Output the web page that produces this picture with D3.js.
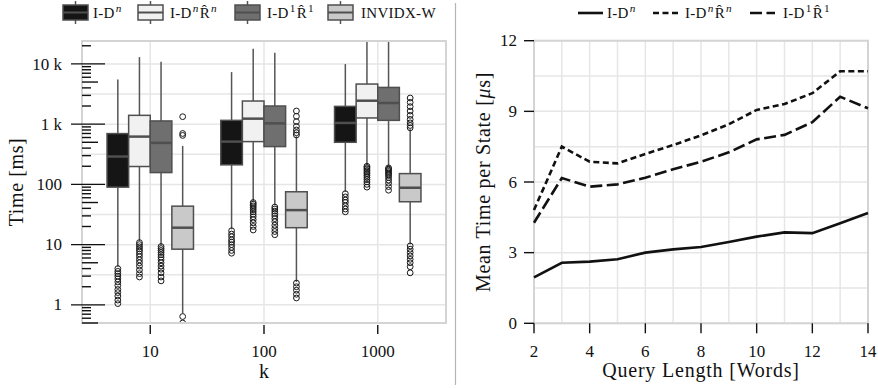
<!DOCTYPE html>
<html>
<head>
<meta charset="utf-8">
<script src="https://cdn.jsdelivr.net/npm/d3@7"></script>
<style>
  body { margin: 0; background: #fff; }
  svg text { font-family: "Liberation Serif", serif; fill: #111; }
</style>
</head>
<body>
<svg id="chart" width="878" height="388"></svg>
<script>
// categories of the left (box) panel
var kValues = ["10", "100", "1000"];

// [whiskerLow, q1, median, q3, whiskerHigh] per k
var boxIDn    = [[4.3, 90, 290, 697, 5520], [18, 211, 513, 1156, 7310], [75, 500, 1047, 1972, 9930]];
var boxIDnRn  = [[11.5, 198, 621, 1400, 12970], [52, 513, 1233, 2420, 17800], [205, 1267, 2450, 4630, 30000]];
var boxID1R1  = [[9.8, 157, 489, 1130, 10840], [45, 424, 1030, 2000, 15270], [195, 1156, 2245, 4070, 30000]];
var boxInvidx = [[0.72, 8.4, 19.1, 43.5, 435], [2.4, 19.1, 37.4, 75.4, 630], [10.1, 51.5, 88, 151, 820]];

// outliers per k
var outIDn = [
    [4.0, 3.6, 3.3, 3.0, 2.7, 2.4, 2.1, 1.8, 1.6, 1.4, 1.2, 1.05],
    [17, 15, 13.5, 12, 11, 10, 9, 8, 7.2],
    [70, 62, 55, 50, 44, 39, 35]];
var outIDnRn = [
    [10.8, 10, 9.2, 8.5, 7.8, 7, 6.3, 5.6, 5, 4.4, 3.8, 3.3, 2.9],
    [50, 47, 44, 41, 38, 35, 32, 29, 26, 23, 20, 17.5],
    [200, 190, 180, 170, 160, 150, 140, 130, 120, 110, 100, 90]];
var outID1R1 = [
    [9.3, 8.6, 8, 7.4, 6.8, 6.2, 5.6, 5, 4.4, 3.9, 3.4, 2.9, 2.5],
    [42, 39, 36, 33, 30, 27, 24, 21, 18.5, 16.5, 14.6],
    [188, 180, 172, 164, 156, 148, 140, 130, 118, 105, 92, 80]];
var outInvidx = [
    [1330, 700, 650, 0.64, 0.5],
    [1655, 1350, 1100, 920, 800, 720, 660, 2.3, 2.0, 1.75, 1.5, 1.3],
    [2716, 2300, 1950, 1650, 1400, 1200, 1050, 950, 870, 9.5, 8.4, 7.4, 6.5, 5.7, 5, 4.3, 3.4]];

// right (line) panel
var queryLength = [2, 3, 4, 5, 6, 7, 8, 9, 10, 11, 12, 13, 14];
var meanIDn   = [1.95, 2.57, 2.62, 2.72, 3.0, 3.14, 3.24, 3.45, 3.68, 3.86, 3.83, 4.25, 4.68];
var meanIDnRn = [4.81, 7.5, 6.86, 6.79, 7.19, 7.57, 7.98, 8.45, 9.06, 9.31, 9.77, 10.7, 10.7];
var meanID1R1 = [4.27, 6.17, 5.8, 5.9, 6.18, 6.54, 6.86, 7.26, 7.81, 8.0, 8.54, 9.62, 9.13];
var yTicksRight = [0, 3, 6, 9, 12];
var xTicksRight = [2, 4, 6, 8, 10, 12, 14];

var svg = d3.select("#chart");
var gridColor = "#e6e6e6";
var frameColor = "#d4d4d4";

// label with optional superscripts: parts = [[text, isSup, isItalic, dropBack], ...]
function richText(sel, parts, size) {
    var t = sel.append("text").style("font-size", size + "px");
    parts.forEach(function (p) {
        var ts = t.append("tspan").text(p[0]);
        if (p[1]) {
            ts.attr("dy", -size * 0.42).attr("dx", 1).style("font-size", (size * 0.75) + "px");
        }
        if (p[2]) ts.style("font-style", "italic");
        if (p[3]) ts.attr("dy", size * 0.42).attr("dx", 1);
    });
    return t;
}
var lblIDn    = [["I-D"], ["n", true, true]];
var lblIDnRn  = [["I-D"], ["n", true, true], ["R\u0302", false, false, true], ["n", true, true]];
var lblID1R1  = [["I-D"], ["1", true], ["R\u0302", false, false, true], ["1", true]];

/* ---------------- left panel ---------------- */
var L = {left: 82, right: 446, top: 41, bottom: 323};

var x0 = d3.scalePoint().domain(kValues).range([L.left, L.right]).padding(0.6);
var y0 = d3.scaleLog().domain([0.5, 24000]).range([L.bottom, L.top]);
var series = [
    {box: boxIDn, out: outIDn, fill: "#151515"},
    {box: boxIDnRn, out: outIDnRn, fill: "#f1f1f1"},
    {box: boxID1R1, out: outID1R1, fill: "#6f6f6f"},
    {box: boxInvidx, out: outInvidx, fill: "#c9c9c9"}
];
var groupW = x0.step() * 0.76;
var xs = d3.scaleBand().domain(d3.range(series.length)).range([-groupW / 2, groupW / 2]);

var left = svg.append("g");
svg.append("defs").append("clipPath").attr("id", "clipL")
    .append("rect").attr("x", L.left).attr("y", L.top)
    .attr("width", L.right - L.left).attr("height", L.bottom - L.top);

// grid: half decades + category lines
var halfDecades = d3.range(0, 9).map(function (i) { return Math.pow(10, i / 2); });
left.selectAll(".hg").data(halfDecades).enter().append("line")
    .attr("x1", L.left).attr("x2", L.right)
    .attr("y1", function (d) { return y0(d); }).attr("y2", function (d) { return y0(d); })
    .style("stroke", gridColor).style("stroke-width", 1.5);
left.selectAll(".vg").data(kValues).enter().append("line")
    .attr("x1", function (d) { return x0(d); }).attr("x2", function (d) { return x0(d); })
    .attr("y1", L.top).attr("y2", L.bottom)
    .style("stroke", gridColor).style("stroke-width", 1.5);

var boxes = left.append("g").attr("clip-path", "url(#clipL)");
series.forEach(function (s, si) {
    kValues.forEach(function (k, ki) {
        var st = s.box[ki];
        var cx = x0(k) + xs(si) + xs.bandwidth() / 2;
        var bw = xs.bandwidth();
        var g = boxes.append("g");
        g.append("line").attr("x1", cx).attr("x2", cx)
            .attr("y1", y0(st[0])).attr("y2", y0(st[4]))
            .style("stroke", "#555").style("stroke-width", 1.5);
        g.append("rect").attr("x", cx - bw / 2).attr("width", bw)
            .attr("y", y0(st[3])).attr("height", y0(st[1]) - y0(st[3]))
            .style("fill", s.fill).style("stroke", "#4f4f4f").style("stroke-width", 1.5);
        g.append("line").attr("x1", cx - bw / 2).attr("x2", cx + bw / 2)
            .attr("y1", y0(st[2])).attr("y2", y0(st[2]))
            .style("stroke", "#4f4f4f").style("stroke-width", 2.5);
        g.selectAll("circle").data(s.out[ki]).enter().append("circle")
            .attr("cx", cx).attr("cy", function (d) { return y0(d); }).attr("r", 2.9)
            .style("fill", "none").style("stroke", "#1a1a1a").style("stroke-width", 1);
    });
});

left.append("rect").attr("x", L.left).attr("y", L.top)
    .attr("width", L.right - L.left).attr("height", L.bottom - L.top)
    .style("fill", "none").style("stroke", frameColor).style("stroke-width", 2);

// y ticks (log): decades long across the spine, 5s medium, rest short
var yTickVals = y0.ticks();
function mant(d) {
    return Math.round(d / Math.pow(10, Math.floor(Math.log10(d) + 1e-9)));
}
left.selectAll(".yt").data(yTickVals).enter().append("line")
    .attr("x1", function (d) { return mant(d) === 1 ? L.left - 11 : L.left; })
    .attr("x2", function (d) {
        var m = mant(d);
        return m === 1 ? L.left + 23 : (m === 5 ? L.left + 16 : L.left + 9);
    })
    .attr("y1", function (d) { return y0(d); }).attr("y2", function (d) { return y0(d); })
    .style("stroke", "#111").style("stroke-width", 1.4);
var yMajor = [1, 10, 100, 1000, 10000];
left.selectAll(".yl").data(yMajor).enter().append("text")
    .attr("x", L.left - 20).attr("y", function (d) { return y0(d); })
    .attr("dy", "0.33em").attr("text-anchor", "end").style("font-size", "17px")
    .text(function (d) { return d >= 1000 ? (d / 1000) + " k" : d; });

// x ticks
left.selectAll(".xt").data(kValues).enter().append("line")
    .attr("x1", function (d) { return x0(d); }).attr("x2", function (d) { return x0(d); })
    .attr("y1", L.bottom + 2).attr("y2", L.bottom + 11)
    .style("stroke", "#111").style("stroke-width", 1.4);
left.selectAll(".xl").data(kValues).enter().append("text")
    .attr("x", function (d) { return x0(d); }).attr("y", 356.5)
    .attr("text-anchor", "middle").style("font-size", "17px").text(function (d) { return d; });

left.append("text").attr("x", (L.left + L.right) / 2).attr("y", 378)
    .attr("text-anchor", "middle").style("font-size", "20px").text("k");
left.append("text").attr("transform", "translate(23," + (L.top + L.bottom) / 2 + ") rotate(-90)")
    .attr("text-anchor", "middle").style("font-size", "20px").style("letter-spacing", "0.6px")
    .text("Time [ms]");

// left legend
var legL = [
    {x: 63, tx: 93, fill: "#151515", lbl: lblIDn},
    {x: 138, tx: 170, fill: "#f1f1f1", lbl: lblIDnRn},
    {x: 235, tx: 267, fill: "#6f6f6f", lbl: lblID1R1},
    {x: 328, tx: 361, fill: "#c9c9c9", lbl: [["INVIDX-W"]]}
];
legL.forEach(function (d) {
    var g = svg.append("g");
    g.append("line").attr("x1", d.x + 12.5).attr("x2", d.x + 12.5).attr("y1", 1).attr("y2", 24)
        .style("stroke", "#555").style("stroke-width", 1.5);
    g.append("rect").attr("x", d.x).attr("y", 5).attr("width", 25).attr("height", 15)
        .style("fill", d.fill).style("stroke", "#4f4f4f").style("stroke-width", 1.5);
    g.append("line").attr("x1", d.x).attr("x2", d.x + 25).attr("y1", 12.5).attr("y2", 12.5)
        .style("stroke", "#4f4f4f").style("stroke-width", 2);
    richText(g, d.lbl, 15).attr("x", d.tx).attr("y", 18).style("letter-spacing", "0.3px");
});

// divider
svg.append("line").attr("x1", 455.5).attr("x2", 455.5).attr("y1", 3).attr("y2", 385)
    .style("stroke", "#b5b5b5").style("stroke-width", 1.2);

/* ---------------- right panel ---------------- */
var R = {left: 534, right: 868, top: 40.7, bottom: 323.3};
var x1 = d3.scaleLinear().domain([2, 14]).range([R.left, R.right]);
var y1 = d3.scaleLinear().domain([0, 12]).range([R.bottom, R.top]);
var right = svg.append("g");

right.selectAll(".vg").data(queryLength).enter().append("line")
    .attr("x1", function (d) { return x1(d); }).attr("x2", function (d) { return x1(d); })
    .attr("y1", R.top).attr("y2", R.bottom)
    .style("stroke", gridColor).style("stroke-width", 1.5);
right.selectAll(".hg").data(d3.range(0, 12.1, 1.5)).enter().append("line")
    .attr("x1", R.left).attr("x2", R.right)
    .attr("y1", function (d) { return y1(d); }).attr("y2", function (d) { return y1(d); })
    .style("stroke", gridColor).style("stroke-width", 1.5);
right.append("rect").attr("x", R.left).attr("y", R.top)
    .attr("width", R.right - R.left).attr("height", R.bottom - R.top)
    .style("fill", "none").style("stroke", frameColor).style("stroke-width", 2);

var lines = [
    {v: meanIDn, dash: null, lbl: lblIDn},
    {v: meanIDnRn, dash: "6,3.5", lbl: lblIDnRn},
    {v: meanID1R1, dash: "12,4.5", lbl: lblID1R1}
];
var lineGen = d3.line()
    .x(function (d, i) { return x1(queryLength[i]); })
    .y(function (d) { return y1(d); });
lines.forEach(function (l) {
    right.append("path").attr("d", lineGen(l.v))
        .style("fill", "none").style("stroke", "#111").style("stroke-width", 2.6)
        .style("stroke-dasharray", l.dash);
});

right.selectAll(".yt").data(yTicksRight).enter().append("line")
    .attr("x1", R.left - 10).attr("x2", R.left)
    .attr("y1", function (d) { return y1(d); }).attr("y2", function (d) { return y1(d); })
    .style("stroke", "#111").style("stroke-width", 1.4);
right.selectAll(".yl").data(yTicksRight).enter().append("text")
    .attr("x", R.left - 17).attr("y", function (d) { return y1(d); }).attr("dy", "0.33em")
    .attr("text-anchor", "end").style("font-size", "17px").text(function (d) { return d; });
right.selectAll(".xt").data(xTicksRight).enter().append("line")
    .attr("x1", function (d) { return x1(d); }).attr("x2", function (d) { return x1(d); })
    .attr("y1", R.bottom).attr("y2", R.bottom + 10)
    .style("stroke", "#111").style("stroke-width", 1.4);
right.selectAll(".xl").data(xTicksRight).enter().append("text")
    .attr("x", function (d) { return x1(d); }).attr("y", 356.5)
    .attr("text-anchor", "middle").style("font-size", "17px").text(function (d) { return d; });

right.append("text").attr("x", (R.left + R.right) / 2).attr("y", 377)
    .attr("text-anchor", "middle").style("font-size", "20px").style("letter-spacing", "0.8px")
    .text("Query Length [Words]");
var yt = right.append("text")
    .attr("transform", "translate(490," + (R.top + R.bottom) / 2 + ") rotate(-90)")
    .attr("text-anchor", "middle").style("font-size", "20px").style("letter-spacing", "0.7px");
yt.append("tspan").text("Mean Time per State [");
yt.append("tspan").text("\u03bc").style("font-style", "italic");
yt.append("tspan").text("s]");

// right legend
var legR = [{x: 578, tx: 607}, {x: 653, tx: 685}, {x: 750, tx: 783}];
lines.forEach(function (l, i) {
    var g = svg.append("g");
    g.append("line").attr("x1", legR[i].x).attr("x2", legR[i].x + 25).attr("y1", 13).attr("y2", 13)
        .style("stroke", "#111").style("stroke-width", 2.6).style("stroke-dasharray", l.dash);
    richText(g, l.lbl, 15).attr("x", legR[i].tx).attr("y", 18).style("letter-spacing", "0.3px");
});
</script>
</body>
</html>
